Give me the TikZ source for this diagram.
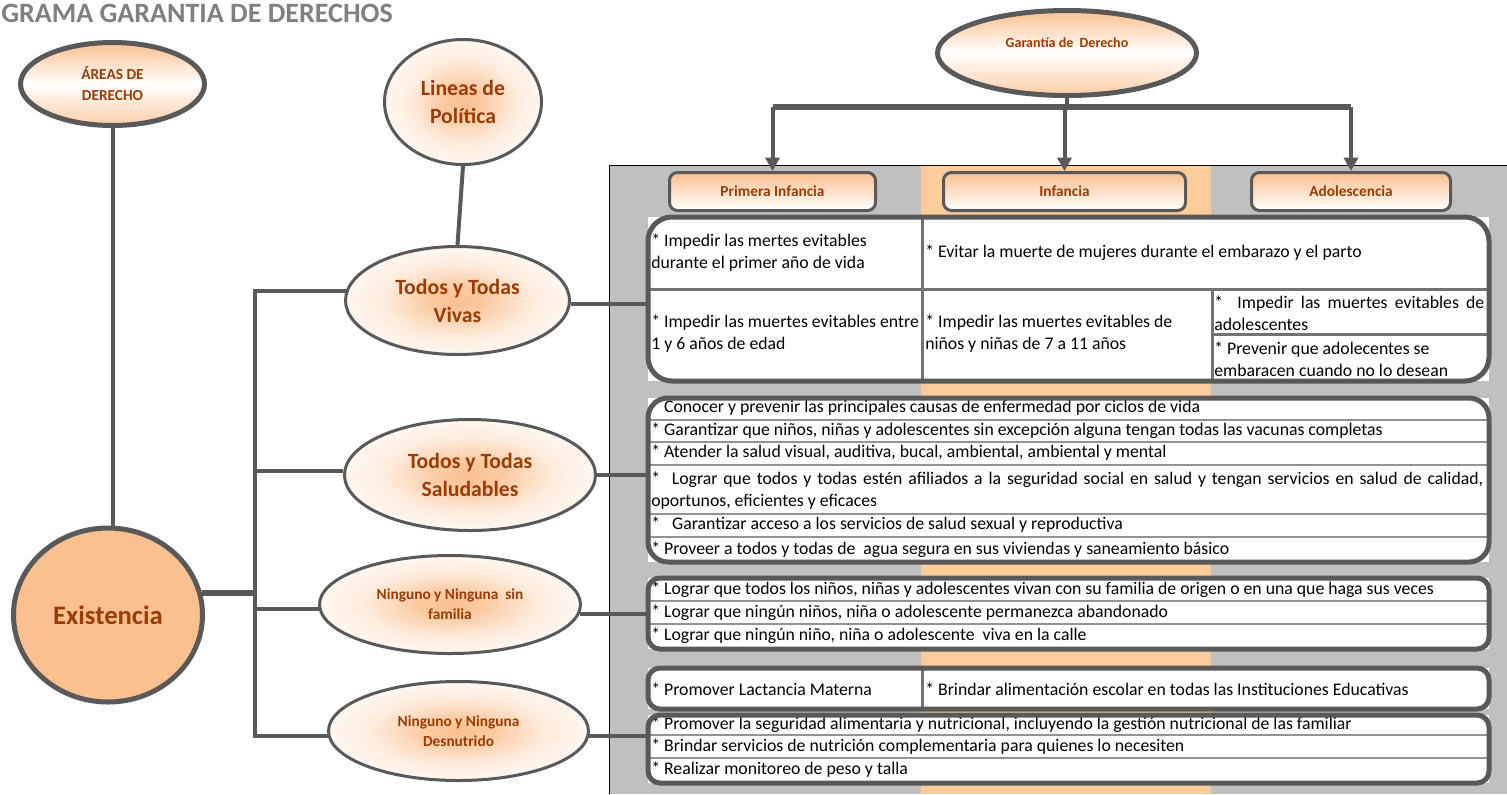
\documentclass[tikz,border=0pt]{standalone}
\usepackage{fontspec}
\setmainfont{Carlito}
\usepackage{xcolor}
\usetikzlibrary{shapes.geometric,arrows.meta,fit,calc,positioning}

\definecolor{gris}{RGB}{89,89,89}
\definecolor{cafe}{RGB}{155,60,5}
\definecolor{naranja}{RGB}{250,192,144}
\definecolor{franja}{RGB}{252,204,154}
\definecolor{fondo}{RGB}{192,192,192}
\definecolor{titulogris}{RGB}{128,128,128}

% brillo naranja en el centro de los ovalos
\pgfdeclareradialshading{brillo}{\pgfpoint{0bp}{0bp}}{%
  color(0bp)=(naranja); color(6bp)=(naranja!85!white); color(17bp)=(naranja!30!white);
  color(25bp)=(naranja!12!white); color(50bp)=(naranja!12!white)}

\newcommand{\fuente}[2]{\fontsize{#1}{#2}\selectfont}
\newcommand{\estirado}[2]{
  % line of a cell spread over the whole width
  % parameter 1: width of the cell
  % parameter 2: text
  \makebox[#1][s]{#2}}

\begin{document}
\begin{tikzpicture}[x=0.75pt,y=-0.75pt,
  conector/.style={gris, line width=3pt},
  barra/.style={gris, line width=4.5pt},
  flecha/.style={gris, line width=3pt, -{Triangle[width=10.5pt,length=10pt]}},
  burbuja/.style={ellipse, draw=gris, line width=2.25pt, shading=brillo, text=cafe, align=center, inner sep=0pt},
  ovalo/.style={ellipse, draw=gris, line width=3.75pt, top color=naranja, bottom color=naranja!80, middle color=white, text=cafe, align=center, inner sep=0pt},
  encabezado/.style={rectangle, rounded corners=6pt, draw=gris, line width=2.25pt, top color=naranja, bottom color=white, text=cafe, font=\bfseries\fuente{11.5}{13}, minimum height=28.5pt},
  marco/.style={rectangle, draw=gris, line width=3.75pt, inner sep=0pt},
  texto/.style={anchor=west, inner sep=0pt, align=left, font=\fuente{13.3}{16.5}},
  division/.style={gris!85, line width=2.25pt},
  renglon/.style={gris!65, line width=1.2pt},
]
  \useasboundingbox (0,0) rectangle (1507,794);

  % fondo de las tablas
  \fill[fondo] (609,165) rectangle (1507,794);
  \fill[franja] (921,165) rectangle (1211,794);
  \draw[black, line width=0.75pt] (609,794) -- (609,165) -- (1507,165);

  \node[anchor=base west, inner sep=0pt, text=titulogris, font=\bfseries\fuente{21}{26}] (titulo) at (1,22) {GRAMA GARANTIA DE DERECHOS};

  % ovalos
  \node[ovalo, font=\bfseries\fuente{11.5}{15.75}, minimum width=138pt, minimum height=62.25pt] (areas) at (112.5,84) {ÁREAS DE\\DERECHO};
  \node[ovalo, font=\bfseries\fuente{10.5}{13}, minimum width=194.25pt, minimum height=63.75pt] (garantia) at (1067,53) {\raisebox{15pt}{Garantía de~~Derecho}};
  \node[burbuja, font=\bfseries\fuente{16.3}{21}, minimum width=117.75pt, minimum height=93.75pt] (lineas) at (463,102) {Lineas de\\Política};
  \node[ellipse, draw=gris, line width=3.75pt, fill=naranja, text=cafe, inner sep=0pt, font=\bfseries\fuente{20}{24}, minimum width=141.75pt, minimum height=130.5pt] (existencia) at (108,615) {Existencia};
  \node[burbuja, font=\bfseries\fuente{16.3}{21}, minimum width=168pt, minimum height=81pt] (vivas) at (457.5,300.5) {Todos y Todas\\Vivas};
  \node[burbuja, font=\bfseries\fuente{16.3}{21}, minimum width=188.25pt, minimum height=83.25pt] (saludables) at (470,475) {Todos y Todas\\Saludables};
  \node[burbuja, font=\bfseries\fuente{11.5}{15}, minimum width=195.75pt, minimum height=73.5pt] (sinfamilia) at (450,604.5) {Ninguno y Ninguna~~sin\\familia};
  \node[burbuja, font=\bfseries\fuente{11.5}{15}, minimum width=195pt, minimum height=74.25pt] (desnutrido) at (458.5,731) {Ninguno y Ninguna\\Desnutrido};

  % encabezados de ciclo de vida
  \node[encabezado, minimum width=154.5pt] (primera) at (772.5,191.5) {Primera Infancia};
  \node[encabezado, minimum width=181.5pt] (infancia) at (1064.5,191.5) {Infancia};
  \node[encabezado, minimum width=149.25pt] (adolescencia) at (1351,191.5) {Adolescencia};

  % esquinas de las tablas
  \coordinate (vida1) at (648,217);    \coordinate (vida2) at (1489,381);
  \coordinate (salud1) at (648,398);   \coordinate (salud2) at (1489,562);
  \coordinate (familia1) at (648,578); \coordinate (familia2) at (1489,649);
  \coordinate (lacta1) at (648,668);   \coordinate (lacta2) at (1489,709);
  \coordinate (nutri1) at (648,715);   \coordinate (nutri2) at (1489,783);
  \foreach \t in {vida,salud,familia,lacta,nutri}
    \fill[white] (\t1) rectangle (\t2);

  % divisiones
  \draw[division] (922,217) -- (922,381);
  \draw[division] (648,289) -- (1489,289);
  \draw[division] (1212,289) -- (1212,381);
  \draw[division] (1212,334) -- (1489,334);
  \draw[division] (922,668) -- (922,709);
  \foreach \y in {420,442,465,514,537,601,624,735,758}
    \draw[renglon] (648,\y) -- (1489,\y);

  % tabla todos y todas vivas
  \node[texto] (v1) at (651,253) {* Impedir las mertes evitables\\durante el primer año de vida};
  \node[texto] (v2) at (925,253) {* Evitar la muerte de mujeres durante el embarazo y el parto};
  \node[texto] (v3) at (651,334) {* Impedir las muertes evitables entre\\1 y 6 años de edad};
  \node[texto] (v4) at (925,334) {* Impedir las muertes evitables de\\niños y niñas de 7 a 11 años};
  \node[texto] (v5) at (1214,313) {\estirado{202.5pt}{* \ Impedir las muertes evitables de}\\adolescentes};
  \node[texto] (v6) at (1214,359) {* Prevenir que adolecentes se\\embaracen cuando no lo desean};

  % tabla todos y todas saludables
  \node[texto] (s1) at (651,408) {* Conocer y prevenir las principales causas de enfermedad por ciclos de vida};
  \node[texto] (s2) at (651,431) {* Garantizar que niños, niñas y adolescentes sin excepción alguna tengan todas las vacunas completas};
  \node[texto] (s3) at (651,453) {* Atender la salud visual, auditiva, bucal, ambiental, ambiental y mental};
  \node[texto] (s4) at (651,491) {\estirado{624pt}{* \ Lograr que todos y todas estén afiliados a la seguridad social en salud y tengan servicios en salud de calidad,}\\oportunos, eficientes y eficaces};
  \node[texto] (s5) at (651,525) {*~~ Garantizar acceso a los servicios de salud sexual y reproductiva};
  \node[texto] (s6) at (651,550) {* Proveer a todos y todas de~~agua segura en sus viviendas y saneamiento básico};

  % tabla ninguno sin familia
  \node[texto] (f1) at (651,590) {* Lograr que todos los niños, niñas y adolescentes vivan con su familia de origen o en una que haga sus veces};
  \node[texto] (f2) at (651,613) {* Lograr que ningún niños, niña o adolescente permanezca abandonado};
  \node[texto] (f3) at (651,636) {* Lograr que ningún niño, niña o adolescente~~viva en la calle};

  % tablas ninguno desnutrido
  \node[texto] (l1) at (651,689) {* Promover Lactancia Materna};
  \node[texto] (l2) at (925,689) {* Brindar alimentación escolar en todas las Instituciones Educativas};
  \node[texto] (n1) at (651,725) {* Promover la seguridad alimentaria y nutricional, incluyendo la gestión nutricional de las familiar};
  \node[texto] (n2) at (651,747) {* Brindar servicios de nutrición complementaria para quienes lo necesiten};
  \node[texto] (n3) at (651,770) {* Realizar monitoreo de peso y talla};

  % conectores
  \coordinate (llave) at (255,290);
  \draw[conector] (areas.south) -- (areas.south |- existencia.north);
  \draw[conector] (lineas.south) -- (vivas.north);
  \draw[conector] (vivas.175) -- (vivas.175 -| llave) -- (desnutrido.182 -| llave) -- (desnutrido.182);
  \draw[conector] (saludables.178) -- (saludables.178 -| llave);
  \draw[conector] (sinfamilia.182) -- (sinfamilia.182 -| llave);
  \draw[barra] (existencia.13) -- (existencia.13 -| llave);
  \draw[conector] (vivas.-2) -- (vivas.-2 -| vida1);
  \draw[conector] (saludables.east) -- (saludables.east -| salud1);
  \draw[conector] (sinfamilia.-4) -- (sinfamilia.-4 -| familia1);
  \draw[conector] (desnutrido.-2) -- (desnutrido.-2 -| nutri1);

  % garantia y flechas
  \coordinate (bus) at (1067,107);
  \draw[conector] (garantia.south) -- (bus);
  \draw[barra] (primera.north |- bus) -- (adolescencia.north |- bus);
  \foreach \n in {primera,infancia,adolescencia}
    \draw[flecha] (\n.north |- bus) -- (\n.north);

  % marcos de las tablas
  \node[marco, rounded corners=18pt, fit={(vida1) (vida2)}] (tvida) {};
  \node[marco, rounded corners=15pt, fit={(salud1) (salud2)}] (tsalud) {};
  \node[marco, rounded corners=9pt, fit={(familia1) (familia2)}] (tfamilia) {};
  \node[marco, rounded corners=9pt, fit={(lacta1) (lacta2)}] (tlacta) {};
  \node[marco, rounded corners=9pt, fit={(nutri1) (nutri2)}] (tnutri) {};
\end{tikzpicture}
\end{document}
